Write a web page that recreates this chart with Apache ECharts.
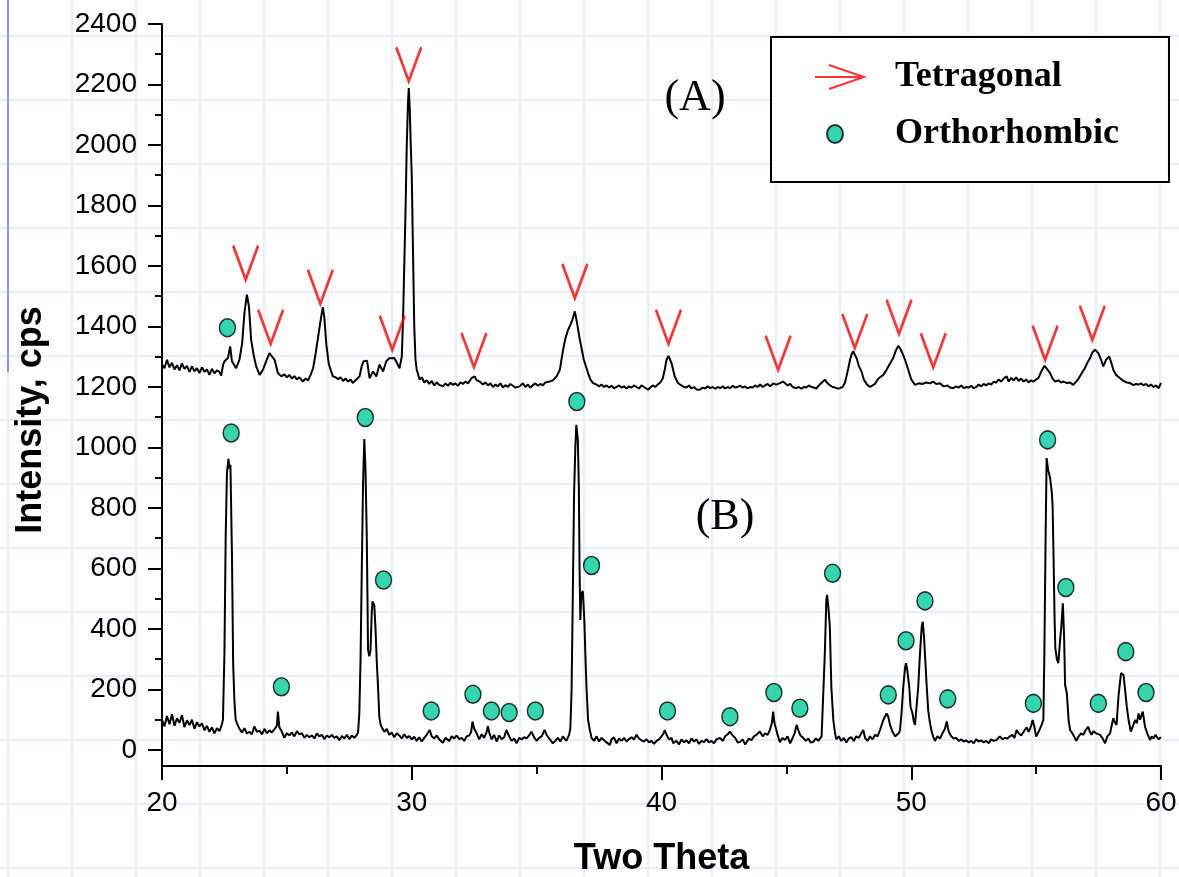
<!DOCTYPE html>
<html>
<head>
<meta charset="utf-8">
<title>XRD patterns</title>
<script src="https://cdn.jsdelivr.net/npm/echarts@6.0.0/dist/echarts.min.js"></script>
<style>
  html, body { margin: 0; padding: 0; }
  body {
    width: 1179px; height: 877px; overflow: hidden; background-color: #fff;
    background-image: linear-gradient(to right, #e8ecfb 2px, transparent 2px),
                      linear-gradient(to bottom, #e8ecfb 2px, transparent 2px);
    background-size: 64px 64px;
    background-position: 7px 35px;
  }
  #marginLine { position: absolute; left: 7px; top: 0; width: 2px; height: 372px; background: #8497f0; }
  #xrd { position: absolute; left: 0; top: 0; width: 1179px; height: 877px; }
</style>
</head>
<body>
<div id="marginLine"></div>
<div id="xrd"></div>
<script>
// pattern (A): [two theta, cps]
const traceA = [
  [20.0,1275],[20.1,1262],[20.2,1290],[20.3,1265],[20.4,1280],[20.5,1258],[20.6,1272],[20.7,1255],[20.8,1278],[20.9,1260],
  [21.0,1270],[21.1,1250],[21.2,1268],[21.3,1252],[21.4,1262],[21.5,1246],[21.6,1265],[21.7,1250],[21.8,1258],[21.9,1240],
  [22.0,1260],[22.1,1245],[22.2,1255],[22.3,1250],[22.37,1238],[22.45,1275],[22.5,1285],[22.64,1296],[22.73,1334],[22.8,1285],
  [22.84,1279],[22.97,1262],[23.1,1290],[23.21,1345],[23.3,1445],[23.4,1505],[23.48,1467],[23.57,1356],[23.67,1306],[23.77,1268],
  [23.91,1240],[24.04,1257],[24.17,1285],[24.3,1312],[24.35,1318],[24.51,1290],[24.64,1246],[24.78,1235],[24.9,1242],[25.0,1232],
  [25.1,1240],[25.2,1228],[25.3,1236],[25.4,1225],[25.5,1232],[25.64,1218],[25.75,1228],[25.85,1222],[25.95,1240],[26.05,1262],
  [26.15,1310],[26.25,1365],[26.35,1420],[26.44,1464],[26.5,1430],[26.58,1340],[26.68,1275],[26.84,1235],[26.95,1232],[27.05,1226],
  [27.15,1232],[27.25,1220],[27.35,1228],[27.45,1218],[27.55,1225],[27.64,1213],[27.75,1222],[27.91,1235],[28.0,1270],[28.07,1285],
  [28.21,1287],[28.31,1229],[28.45,1251],[28.58,1235],[28.71,1274],[28.85,1251],[28.98,1285],[29.1,1295],[29.18,1301],[29.3,1296],
  [29.41,1279],[29.51,1262],[29.6,1300],[29.65,1420],[29.7,1600],[29.75,1780],[29.8,2000],[29.85,2140],[29.88,2188],[29.92,2120],
  [29.96,2000],[30.0,1900],[30.05,1650],[30.1,1400],[30.15,1290],[30.2,1257],[30.32,1224],[30.4,1232],[30.5,1215],[30.6,1222],
  [30.7,1210],[30.8,1220],[30.9,1205],[31.0,1215],[31.1,1207],[31.25,1202],[31.35,1212],[31.45,1204],[31.55,1214],[31.65,1207],
  [31.75,1212],[31.85,1204],[31.95,1215],[32.05,1210],[32.15,1218],[32.25,1212],[32.39,1229],[32.52,1235],[32.6,1222],[32.72,1218],
  [32.85,1208],[32.95,1215],[33.05,1205],[33.15,1212],[33.25,1200],[33.35,1208],[33.45,1202],[33.55,1212],[33.65,1198],[33.75,1206],
  [33.85,1200],[33.95,1210],[34.05,1204],[34.15,1198],[34.32,1202],[34.45,1212],[34.55,1200],[34.65,1208],[34.75,1198],[34.85,1206],
  [34.95,1212],[35.05,1204],[35.15,1210],[35.25,1205],[35.35,1215],[35.52,1218],[35.65,1222],[35.8,1235],[35.93,1257],[36.06,1323],
  [36.15,1360],[36.26,1389],[36.35,1405],[36.43,1422],[36.53,1450],[36.62,1411],[36.73,1356],[36.89,1290],[37.06,1246],[37.15,1225],
  [37.26,1213],[37.4,1208],[37.5,1202],[37.6,1208],[37.7,1200],[37.8,1205],[37.9,1198],[38.0,1204],[38.1,1196],[38.2,1200],
  [38.3,1205],[38.4,1198],[38.5,1202],[38.6,1195],[38.7,1202],[38.8,1198],[38.9,1205],[39.0,1200],[39.1,1195],[39.2,1205],
  [39.3,1200],[39.46,1191],[39.55,1198],[39.65,1205],[39.75,1200],[39.85,1208],[39.95,1215],[40.05,1228],[40.13,1257],[40.2,1290],
  [40.28,1303],[40.4,1279],[40.53,1235],[40.66,1213],[40.8,1205],[40.9,1200],[41.0,1198],[41.1,1205],[41.2,1195],[41.3,1200],
  [41.4,1192],[41.53,1191],[41.65,1198],[41.75,1195],[41.85,1202],[41.95,1196],[42.05,1200],[42.15,1194],[42.25,1200],[42.35,1196],
  [42.45,1202],[42.55,1195],[42.65,1200],[42.75,1196],[42.85,1204],[42.95,1198],[43.05,1200],[43.14,1205],[43.25,1198],[43.35,1202],
  [43.45,1195],[43.55,1200],[43.65,1198],[43.75,1205],[43.85,1200],[43.95,1208],[44.05,1200],[44.15,1205],[44.25,1210],[44.35,1202],
  [44.47,1212],[44.6,1208],[44.74,1213],[44.87,1218],[44.95,1212],[45.05,1205],[45.15,1210],[45.25,1200],[45.41,1196],[45.5,1200],
  [45.6,1194],[45.7,1200],[45.8,1198],[45.9,1205],[46.0,1200],[46.1,1198],[46.2,1195],[46.3,1205],[46.42,1215],[46.54,1224],
  [46.65,1212],[46.75,1205],[46.85,1200],[46.95,1198],[47.05,1195],[47.14,1196],[47.25,1200],[47.35,1215],[47.48,1262],[47.55,1290],
  [47.62,1310],[47.68,1318],[47.75,1305],[47.81,1296],[47.9,1270],[48.01,1251],[48.1,1225],[48.24,1207],[48.35,1200],[48.45,1205],
  [48.55,1210],[48.65,1225],[48.75,1232],[48.88,1240],[49.0,1255],[49.1,1270],[49.2,1285],[49.28,1296],[49.38,1320],[49.48,1336],
  [49.55,1328],[49.61,1323],[49.68,1305],[49.75,1290],[49.88,1257],[50.0,1225],[50.15,1207],[50.3,1212],[50.45,1210],[50.6,1215],
  [50.75,1212],[50.88,1218],[51.0,1210],[51.15,1212],[51.3,1202],[51.45,1205],[51.55,1198],[51.68,1196],[51.8,1202],[51.9,1198],
  [52.0,1205],[52.1,1196],[52.2,1200],[52.3,1198],[52.4,1204],[52.5,1196],[52.6,1200],[52.7,1208],[52.8,1202],[52.9,1210],
  [53.0,1205],[53.1,1212],[53.2,1208],[53.3,1218],[53.4,1214],[53.5,1225],[53.6,1218],[53.7,1228],[53.82,1235],[53.9,1218],
  [54.0,1230],[54.1,1222],[54.2,1232],[54.3,1220],[54.4,1228],[54.5,1218],[54.6,1225],[54.7,1215],[54.8,1222],[54.89,1218],
  [55.0,1225],[55.09,1229],[55.2,1250],[55.33,1270],[55.45,1258],[55.56,1246],[55.66,1228],[55.76,1218],[55.9,1222],[56.0,1215],
  [56.1,1218],[56.23,1213],[56.35,1215],[56.49,1207],[56.6,1218],[56.7,1228],[56.83,1246],[56.95,1262],[57.05,1280],[57.16,1296],
  [57.26,1315],[57.36,1323],[57.49,1312],[57.6,1290],[57.69,1268],[57.8,1290],[57.93,1301],[58.01,1280],[58.09,1257],[58.2,1240],
  [58.36,1229],[58.5,1220],[58.62,1215],[58.76,1213],[58.9,1206],[59.0,1210],[59.1,1208],[59.2,1212],[59.3,1205],[59.4,1210],
  [59.5,1202],[59.6,1208],[59.7,1200],[59.8,1205],[59.9,1196],[60.0,1213]
]

// pattern (B)
const traceB = [
  [20.0,100],[20.1,78],[20.2,112],[20.3,85],[20.4,118],[20.5,80],[20.6,105],[20.7,90],[20.8,115],[20.9,75],
  [21.0,98],[21.1,82],[21.2,100],[21.3,70],[21.4,92],[21.5,78],[21.6,88],[21.7,65],[21.8,80],[21.9,60],
  [22.0,75],[22.1,55],[22.2,72],[22.3,62],[22.4,85],[22.44,100],[22.5,320],[22.55,705],[22.6,915],[22.66,962],
  [22.7,930],[22.74,943],[22.8,650],[22.85,282],[22.9,160],[22.95,100],[23.0,89],[23.1,70],[23.2,58],[23.3,72],
  [23.4,55],[23.5,60],[23.6,52],[23.7,78],[23.8,60],[23.9,64],[24.0,52],[24.1,70],[24.2,55],[24.3,65],
  [24.4,58],[24.5,68],[24.6,80],[24.64,127],[24.7,75],[24.8,60],[24.9,40],[25.0,55],[25.1,48],[25.2,58],
  [25.3,45],[25.4,62],[25.5,52],[25.6,55],[25.7,40],[25.8,50],[25.9,42],[26.0,48],[26.1,38],[26.2,55],
  [26.3,45],[26.4,50],[26.5,36],[26.6,48],[26.7,42],[26.8,50],[26.9,40],[27.0,45],[27.1,32],[27.2,46],
  [27.3,38],[27.4,50],[27.5,36],[27.6,48],[27.7,40],[27.8,50],[27.85,58],[27.9,120],[27.95,300],[28.0,600],
  [28.05,880],[28.1,1028],[28.15,920],[28.2,700],[28.25,331],[28.3,310],[28.35,330],[28.4,460],[28.43,491],[28.5,478],
  [28.55,400],[28.6,290],[28.65,209],[28.7,110],[28.75,85],[28.8,75],[28.9,60],[29.0,70],[29.1,50],[29.2,58],
  [29.3,42],[29.4,55],[29.5,48],[29.6,38],[29.7,52],[29.8,40],[29.9,46],[30.0,35],[30.1,44],[30.2,30],
  [30.3,42],[30.4,28],[30.5,40],[30.6,50],[30.72,66],[30.8,45],[30.9,38],[31.0,48],[31.1,35],[31.25,24],
  [31.35,40],[31.5,30],[31.6,45],[31.7,38],[31.8,48],[31.9,36],[32.0,40],[32.1,30],[32.2,45],[32.3,48],
  [32.38,60],[32.43,94],[32.5,70],[32.6,55],[32.7,35],[32.8,52],[32.9,40],[33.0,60],[33.05,79],[33.1,58],
  [33.2,35],[33.3,50],[33.4,28],[33.5,48],[33.6,36],[33.7,42],[33.79,66],[33.9,45],[34.0,30],[34.1,38],
  [34.2,22],[34.3,40],[34.4,35],[34.5,42],[34.6,38],[34.7,48],[34.79,60],[34.9,42],[35.0,30],[35.1,40],
  [35.2,45],[35.32,66],[35.4,50],[35.5,38],[35.65,22],[35.75,30],[35.85,40],[35.95,28],[36.05,45],[36.19,30],
  [36.3,50],[36.35,70],[36.4,200],[36.45,520],[36.5,850],[36.55,1000],[36.59,1075],[36.65,1025],[36.69,871],[36.72,595],
  [36.75,430],[36.79,518],[36.85,525],[36.91,430],[36.95,320],[37.0,200],[37.06,99],[37.13,66],[37.2,40],[37.3,30],
  [37.4,45],[37.5,28],[37.6,40],[37.7,32],[37.8,25],[37.93,17],[38.0,35],[38.1,42],[38.2,22],[38.3,38],
  [38.4,30],[38.5,40],[38.6,28],[38.7,36],[38.8,42],[38.9,35],[39.0,50],[39.1,38],[39.2,32],[39.3,28],
  [39.4,35],[39.5,25],[39.6,30],[39.7,20],[39.8,30],[39.9,35],[40.0,45],[40.08,55],[40.13,66],[40.2,50],
  [40.3,35],[40.4,40],[40.47,22],[40.6,30],[40.7,18],[40.8,35],[40.9,25],[41.0,32],[41.1,22],[41.2,38],
  [41.3,28],[41.4,35],[41.5,20],[41.6,30],[41.7,26],[41.8,36],[41.9,25],[42.0,30],[42.1,22],[42.2,35],
  [42.34,40],[42.45,30],[42.55,45],[42.65,52],[42.74,61],[42.85,48],[42.95,40],[43.05,25],[43.14,26],[43.25,35],
  [43.35,18],[43.41,24],[43.5,38],[43.6,32],[43.7,45],[43.8,50],[43.94,61],[44.05,45],[44.15,55],[44.25,50],
  [44.34,66],[44.42,90],[44.47,127],[44.52,90],[44.58,94],[44.65,50],[44.74,26],[44.85,40],[44.94,33],[45.05,45],
  [45.15,22],[45.25,40],[45.33,55],[45.41,83],[45.48,65],[45.56,48],[45.67,40],[45.78,30],[45.88,38],[45.97,25],
  [46.07,26],[46.18,38],[46.28,30],[46.41,45],[46.47,47],[46.54,320],[46.6,496],[46.63,513],[46.68,474],[46.74,408],
  [46.8,209],[46.88,99],[46.95,55],[47.0,35],[47.1,45],[47.2,30],[47.3,40],[47.4,25],[47.5,38],[47.6,42],
  [47.7,30],[47.8,45],[47.9,40],[48.0,55],[48.08,66],[48.15,40],[48.25,30],[48.35,45],[48.45,35],[48.55,50],
  [48.65,45],[48.75,66],[48.88,99],[49.01,121],[49.08,110],[49.15,83],[49.25,60],[49.35,45],[49.42,40],[49.5,55],
  [49.55,66],[49.61,121],[49.68,209],[49.75,270],[49.79,287],[49.84,265],[49.92,209],[49.97,143],[50.05,121],[50.1,95],
  [50.15,83],[50.22,88],[50.28,209],[50.35,320],[50.42,408],[50.46,424],[50.51,375],[50.55,369],[50.62,209],[50.68,130],
  [50.75,89],[50.82,60],[50.88,44],[50.95,30],[51.05,45],[51.15,38],[51.25,55],[51.35,70],[51.42,94],[51.5,60],
  [51.6,45],[51.7,38],[51.8,40],[51.9,30],[52.0,35],[52.1,28],[52.2,32],[52.3,25],[52.4,30],[52.5,22],
  [52.6,35],[52.7,28],[52.8,32],[52.9,25],[53.0,30],[53.1,22],[53.2,35],[53.3,30],[53.4,32],[53.55,45],
  [53.65,35],[53.75,40],[53.85,38],[53.95,45],[54.05,50],[54.13,40],[54.22,66],[54.3,55],[54.4,48],[54.5,60],
  [54.62,75],[54.7,60],[54.8,80],[54.86,99],[54.92,80],[55.0,44],[55.1,60],[55.22,83],[55.29,100],[55.33,320],
  [55.38,705],[55.42,965],[55.48,926],[55.56,899],[55.63,850],[55.66,805],[55.7,628],[55.74,430],[55.77,336],[55.83,300],
  [55.89,287],[55.96,364],[56.01,408],[56.07,485],[56.12,375],[56.16,215],[56.23,188],[56.3,99],[56.36,66],[56.45,55],
  [56.52,45],[56.61,30],[56.7,45],[56.8,55],[56.89,50],[56.98,65],[57.09,77],[57.15,60],[57.22,50],[57.3,62],
  [57.4,55],[57.48,58],[57.56,50],[57.65,40],[57.76,22],[57.85,45],[57.96,55],[58.09,105],[58.16,90],[58.22,83],
  [58.3,180],[58.4,254],[58.5,248],[58.56,200],[58.63,143],[58.7,100],[58.79,61],[58.88,80],[58.96,99],[59.03,88],
  [59.1,121],[59.16,100],[59.22,115],[59.27,127],[59.36,77],[59.45,55],[59.56,33],[59.63,45],[59.7,38],[59.78,50],
  [59.83,45],[59.9,36],[59.96,40],[60.0,42]
]

// arrow tips over the tetragonal peaks
const tetragonalPeaks = [
  [23.35,1555],[24.35,1343],[26.34,1475],[29.22,1323],[29.88,2211],[32.49,1266],[36.53,1494],
  [40.28,1343],[44.67,1257],[47.74,1329],[49.51,1376],[50.88,1265],[55.36,1290],[57.25,1356]
]

// dots on the orthorhombic peaks
const orthorhombicPeaks = [
  [22.62,1396],[22.77,1048],[24.78,209],[28.14,1099],[28.87,562],[30.78,129],[32.45,184],[33.19,129],[33.9,124],
  [34.95,129],[36.61,1152],[37.2,610],[40.24,129],[42.74,110],[44.5,190],[45.54,138],[46.85,584],[49.08,182],
  [49.79,361],[50.55,493],[51.46,169],[54.89,154],[55.46,1025],[56.19,537],[57.49,154],[58.59,325],[59.4,190]
]

const yMajorTicks = [0, 200, 400, 600, 800, 1000, 1200, 1400, 1600, 1800, 2000, 2200, 2400]
const yMinorTicks = [100, 300, 500, 700, 900, 1100, 1300, 1500, 1700, 1900, 2100, 2300]

const chartDom = document.getElementById('xrd')
const myChart = echarts.init(chartDom)
const sans = 'Liberation Sans, Arial, sans-serif'
const serif = 'Liberation Serif, Times New Roman, serif'
// legend arrow, the down-pointing V and a small dot (the two moves keep the box 49x24)
const arrowIcon = 'path://M0,12L49,12M14,0L49,12L14,24'
const vMark = 'path://M0,0L12.5,34L25,0'
const dotIcon = 'path://M0,0M49,24M28,12A8,9,0,1,1,12,12A8,9,0,1,1,28,12Z'
const black = { color: '#000', width: 2 }

let option = {
  animation: false,
  grid: { left: 162, right: 18, top: 24, bottom: 111, outerBoundsMode: 'none' },
  legend: {
    data: [
      { name: 'Tetragonal', icon: arrowIcon, itemStyle: { borderWidth: 2 } },
      { name: 'Orthorhombic', icon: dotIcon }
    ],
    orient: 'vertical',
    left: 771,
    top: 37,
    padding: [22, 50, 30, 43],
    itemWidth: 49,
    itemHeight: 24,
    itemGap: 21,
    selectedMode: false,
    backgroundColor: '#fff',
    borderColor: '#000',
    borderWidth: 2,
    textStyle: {
      fontFamily: serif, fontWeight: 'bold', fontSize: 36, lineHeight: 36,
      color: '#000', padding: [0, 0, 0, 26]
    }
  },
  xAxis: {
    type: 'value',
    min: 20,
    max: 60,
    interval: 10,
    name: 'Two Theta',
    nameLocation: 'middle',
    nameGap: 75,
    nameTextStyle: { fontFamily: sans, fontWeight: 'bold', fontSize: 36, color: '#000' },
    axisLine: { onZero: false, lineStyle: black },
    axisTick: { length: 14, lineStyle: black },
    minorTick: { show: true, splitNumber: 2, length: 8, lineStyle: black },
    axisLabel: { fontFamily: sans, fontSize: 28, color: '#000', margin: 23 },
    splitLine: { show: false }
  },
  yAxis: [
    {
      type: 'value',
      min: -53,
      max: 2400,
      name: 'Intensity, cps',
      nameLocation: 'middle',
      nameRotate: 90,
      nameGap: 113,
      nameTextStyle: { fontFamily: sans, fontWeight: 'bold', fontSize: 36, color: '#000', padding: [0, 50, 0, 0] },
      axisLine: { show: true, lineStyle: black },
      axisTick: { length: 14, lineStyle: black, customValues: yMajorTicks },
      axisLabel: {
        fontFamily: sans, fontSize: 28, color: '#000', margin: 25,
        customValues: yMajorTicks,
        formatter: (v) => String(v)
      },
      splitLine: { show: false }
    },
    {
      type: 'value',
      min: -53,
      max: 2400,
      position: 'left',
      axisLine: { show: false },
      axisTick: { length: 7, lineStyle: black, customValues: yMinorTicks },
      axisLabel: { show: false },
      splitLine: { show: false }
    }
  ],
  graphic: [
    {
      type: 'text', x: 695, y: 98,
      style: { text: '(A)', font: '44px ' + serif, fill: '#000', textAlign: 'center', textVerticalAlign: 'middle', align: 'center', verticalAlign: 'middle' }
    },
    {
      type: 'text', x: 725, y: 517,
      style: { text: '(B)', font: '44px ' + serif, fill: '#000', textAlign: 'center', textVerticalAlign: 'middle', align: 'center', verticalAlign: 'middle' }
    }
  ],
  series: [
    {
      name: 'A',
      type: 'line',
      data: traceA,
      showSymbol: false,
      lineStyle: { color: '#000', width: 2 },
      z: 2
    },
    {
      name: 'B',
      type: 'line',
      data: traceB,
      showSymbol: false,
      lineStyle: { color: '#000', width: 2 },
      z: 2
    },
    {
      name: 'Tetragonal',
      type: 'scatter',
      data: tetragonalPeaks,
      symbol: vMark,
      symbolSize: [25, 34],
      symbolOffset: [0, -17],
      itemStyle: { color: 'rgba(0,0,0,0)', borderColor: '#ff0000', borderWidth: 3 },
      z: 3
    },
    {
      name: 'Orthorhombic',
      type: 'scatter',
      data: orthorhombicPeaks,
      symbol: 'circle',
      symbolSize: [16, 18],
      itemStyle: { color: '#00cc99', borderColor: '#000', borderWidth: 1.5 },
      z: 4
    }
  ]
}

option && myChart.setOption(option)
</script>
</body>
</html>
